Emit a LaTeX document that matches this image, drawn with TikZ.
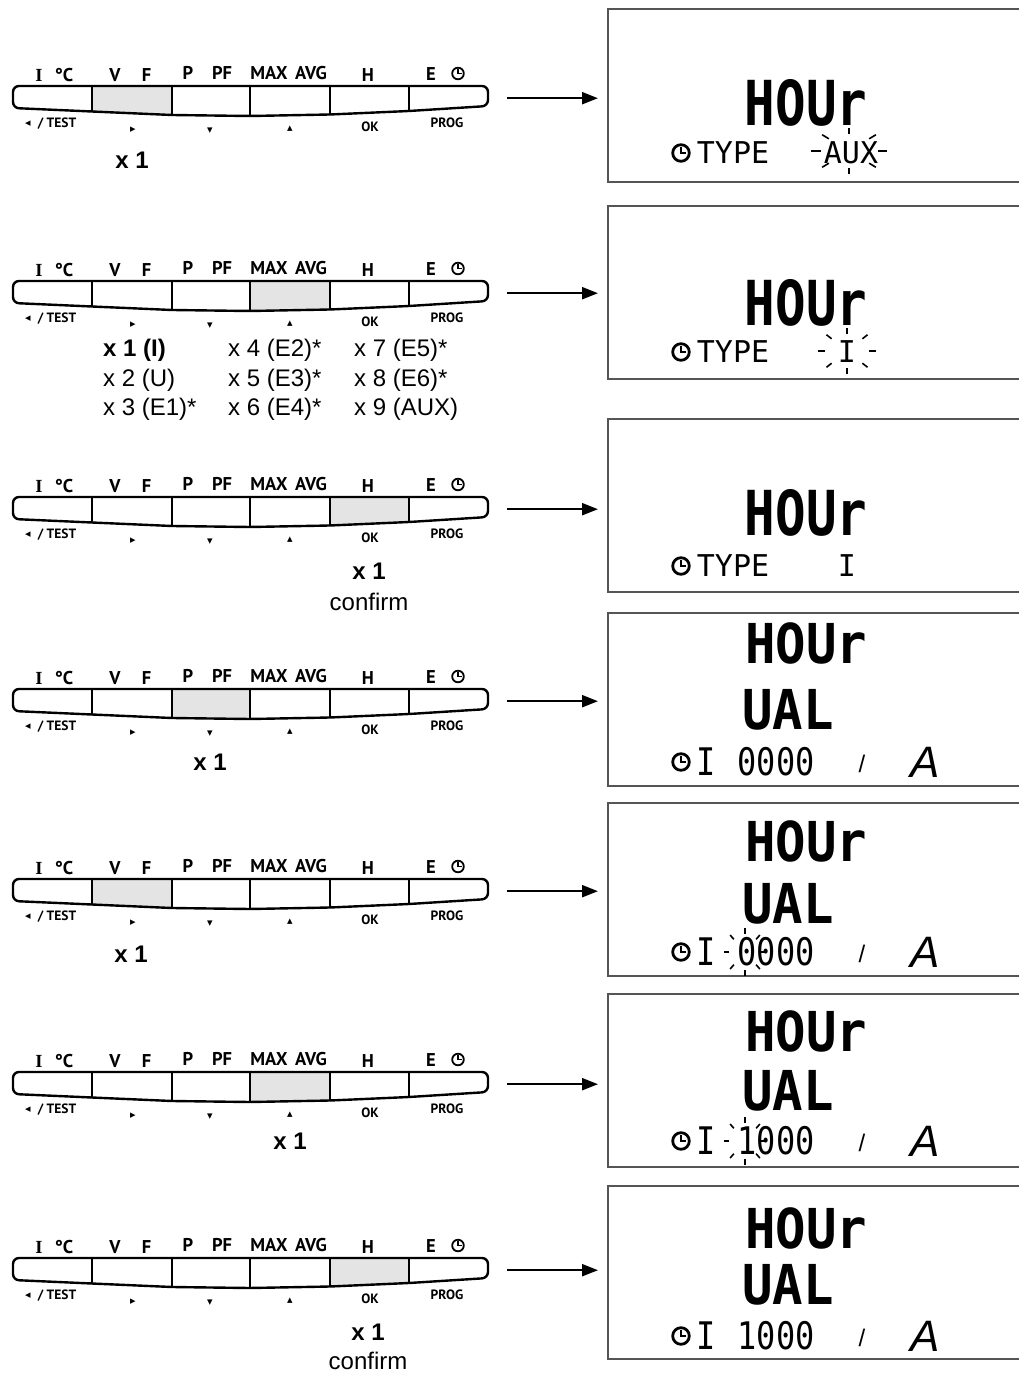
\documentclass[tikz,border=0pt]{standalone}
\usepackage{graphicx}
\usepackage{fontspec}
\setmainfont{Liberation Sans}
\newfontfamily\keyfont{PT Sans}
\newfontfamily\keyserif{Liberation Serif}
\newfontfamily\lcdfont{DejaVu Sans Mono}
\newfontfamily\symfont{DejaVu Sans}
\newfontfamily\unitfont{Liberation Sans}
\usetikzlibrary{arrows.meta}
\definecolor{hlgray}{HTML}{E3E4E3}
\definecolor{lcdgray}{HTML}{555555}

\tikzset{
  kpline/.style={line width=2.4pt, line join=round},
  toplbl/.style={font=\keyfont\bfseries\fontsize{18.5}{18.5}\selectfont, anchor=base, inner sep=0},
  botlbl/.style={font=\keyfont\bfseries\fontsize{13.5}{13.5}\selectfont, inner sep=0},
  tri/.style={font=\symfont\fontsize{11}{11}\selectfont, inner sep=0},
  cnt/.style={font=\bfseries\fontsize{24}{24}\selectfont, inner sep=0},
  cntr/.style={font=\fontsize{24}{24}\selectfont, inner sep=0, anchor=west},
  lcdbox/.style={draw=lcdgray, line width=1.6pt, inner sep=0, anchor=north west, minimum width=440pt, minimum height=173pt},
  arr/.style={line width=2.2pt, -{Triangle[length=16pt,width=12pt]}, shorten <=19pt, shorten >=9pt},
  bigA/.style={font=\lcdfont\bfseries\fontsize{62}{62}\selectfont, inner sep=0},
  bigB/.style={font=\lcdfont\bfseries\fontsize{55}{55}\selectfont, inner sep=0},
  smalltxt/.style={font=\lcdfont\fontsize{30}{30}\selectfont, inner sep=0},
  digits/.style={font=\lcdfont\fontsize{38}{38}\selectfont, inner sep=0},
  unitslash/.style={font=\unitfont\fontsize{24}{24}\selectfont, inner sep=0},
  unitA/.style={font=\unitfont\itshape\fontsize{44}{44}\selectfont, inner sep=0},
  ray/.style={line width=1.6pt},
  clk/.pic={\draw[line width=2.8pt] (0,0) circle[radius=8.3]; \draw[line width=2.3pt] (0,-6)--(0,0)--(5,0);},
  clks/.pic={\draw[line width=1.8pt] (0,0) circle[radius=5.8]; \draw[line width=1.5pt] (0,-4.2)--(0,0)--(3.5,0);},
}

% #1 name, #2 y0, #3 xa, #4 xb, #5 ba, #6 bb
\newcommand\keypad[6]{%
  \fill[hlgray] (#3,#2) -- (#4,#2) -- (#4,#2+#6) -- (#3,#2+#5) -- cycle;
  \draw[kpline, rounded corners=6pt] (13,#2) -- (488,#2) -- (488,#2+20) -- (409,#2+25) -- (330,#2+28.5) -- (250,#2+30) -- (172,#2+29) -- (92,#2+25.5) -- (13,#2+22) -- cycle;
  \foreach \xx/\bb in {92/25.5,172/29,250/30,330/28.5,409/25} {\draw[kpline] (\xx,#2) -- (\xx,#2+\bb);}
  \node[toplbl] at (39,#2-5) {\keyserif I};
  \node[toplbl] at (64,#2-5) {°C};
  \node[toplbl] at (115,#2-5) {V};
  \node[toplbl] at (146.5,#2-5) {F};
  \node[toplbl] at (188,#2-7) {P};
  \node[toplbl] at (222,#2-7) {PF};
  \node[toplbl] at (269,#2-7) {MAX};
  \node[toplbl] at (311,#2-7) {AVG};
  \node[toplbl] at (368,#2-5) {H};
  \node[toplbl] at (431,#2-6) {E};
  \pic at (458,#2-12.5) {clks};
  \node[tri] at (28,#2+38) {◂};
  \node[botlbl] at (57,#2+38) {/ TEST};
  \node[tri] at (133,#2+44) {▸};
  \node[tri] at (210,#2+45) {▾};
  \node[tri] at (290,#2+43) {▴};
  \node[botlbl] at (370,#2+41) {OK};
  \node[botlbl] at (447,#2+37) {PROG};
  \node[inner sep=0, minimum width=475pt, minimum height=24pt, anchor=north west] (#1) at (13,#2) {};
}

% #1 cx, #2 cy, #3 rx, #4 ry
\newcommand\blink[4]{%
  \foreach \a in {0,45,...,315} {
    \pgfmathsetmacro\xa{#1+0.75*#3*cos(\a)}
    \pgfmathsetmacro\ya{#2+0.75*#4*sin(\a)}
    \pgfmathsetmacro\xb{#1+#3*cos(\a)}
    \pgfmathsetmacro\yb{#2+#4*sin(\a)}
    \draw[ray] (\xa,\ya) -- (\xb,\yb);
  }
}

\begin{document}
\begin{tikzpicture}[x=1pt,y=-1pt]
\useasboundingbox (0,0) rectangle (1019,1373);

% ---------------- keypads ----------------
\keypad{K1}{86}{92}{172}{25.5}{29}
\keypad{K2}{281}{250}{330}{30}{28.5}
\keypad{K3}{497}{330}{409}{28.5}{25}
\keypad{K4}{689}{172}{250}{29}{30}
\keypad{K5}{879}{92}{172}{25.5}{29}
\keypad{K6}{1072}{250}{330}{30}{28.5}
\keypad{K7}{1258}{330}{409}{28.5}{25}

% ---------------- counts ----------------
\node[cnt] (c1) at (132,160) {x 1};
\node[cntr, font=\bfseries\fontsize{24}{24}\selectfont] (c2a) at (103,350) {x 1 (I)};
\node[cntr] (c2b) at (103,380) {x 2 (U)};
\node[cntr] (c2c) at (103,409) {x 3 (E1)*};
\node[cntr] (c2d) at (228,350) {x 4 (E2)*};
\node[cntr] (c2e) at (228,380) {x 5 (E3)*};
\node[cntr] (c2f) at (228,409) {x 6 (E4)*};
\node[cntr] (c2g) at (354,350) {x 7 (E5)*};
\node[cntr] (c2h) at (354,380) {x 8 (E6)*};
\node[cntr] (c2i) at (354,409) {x 9 (AUX)};
\node[cnt] (c3) at (369,571) {x 1};
\node[cntr, anchor=center] (c3b) at (369,602) {confirm};
\node[cnt] (c4) at (210,762) {x 1};
\node[cnt] (c5) at (131,954) {x 1};
\node[cnt] (c6) at (290,1141) {x 1};
\node[cnt] (c7) at (368,1332) {x 1};
\node[cntr, anchor=center] (c7b) at (368,1361) {confirm};

% ---------------- LCD boxes ----------------
\node[lcdbox] (L1) at (607,8) {};
\node[lcdbox] (L2) at (607,205) {};
\node[lcdbox] (L3) at (607,418) {};
\node[lcdbox] (L4) at (607,612) {};
\node[lcdbox] (L5) at (607,802) {};
\node[lcdbox] (L6) at (607,993) {};
\node[lcdbox] (L7) at (607,1185) {};

% ---------------- arrows ----------------
\foreach \i in {1,...,7} {\draw[arr] (K\i.east) -- (K\i.east -| L\i.west);}

% ---------------- LCD 1 ----------------
\node[bigA] (h1) at (806,103) {\scalebox{0.82}[1]{HOUr}};
\pic at (681,153) {clk};
\node[smalltxt] (t1) at (733,153) {TYPE};
\node[smalltxt] (a1) at (851,153) {AUX};
\blink{849}{151}{38}{23}

% ---------------- LCD 2 ----------------
\node[bigA] (h2) at (806,303) {\scalebox{0.82}[1]{HOUr}};
\pic at (681,352) {clk};
\node[smalltxt] (t2) at (733,352) {TYPE};
\node[smalltxt] (i2) at (847,352) {I};
\blink{847}{351}{29}{23}

% ---------------- LCD 3 ----------------
\node[bigA] (h3) at (806,513) {\scalebox{0.82}[1]{HOUr}};
\pic at (681,566) {clk};
\node[smalltxt] (t3) at (733,566) {TYPE};
\node[smalltxt] (i3) at (847,566) {I};

% ---------------- LCD 4 ----------------
\node[bigB] (h4) at (806,643) {\scalebox{0.92}[1]{HOUr}};
\node[bigB] (u4) at (788,710) {\scalebox{0.92}[1]{UAL}};
\pic at (681,762) {clk};
\node[digits] (i4) at (706,762) {\scalebox{0.84}[1]{I}};
\node[digits] (d4) at (776,762) {\scalebox{0.84}[1]{0000}};
\node[unitslash] (s4) at (862,764) {/};
\node[unitA] (A4) at (925,762) {A};

% ---------------- LCD 5 ----------------
\node[bigB] (h5) at (806,841) {\scalebox{0.92}[1]{HOUr}};
\node[bigB] (u5) at (788,904) {\scalebox{0.92}[1]{UAL}};
\pic at (681,952) {clk};
\node[digits] (i5) at (706,952) {\scalebox{0.84}[1]{I}};
\node[digits] (d5) at (776,952) {\scalebox{0.84}[1]{0000}};
\blink{745}{952}{21}{24}
\node[unitslash] (s5) at (862,954) {/};
\node[unitA] (A5) at (925,952) {A};

% ---------------- LCD 6 ----------------
\node[bigB] (h6) at (806,1031) {\scalebox{0.92}[1]{HOUr}};
\node[bigB] (u6) at (788,1091) {\scalebox{0.92}[1]{UAL}};
\pic at (681,1141) {clk};
\node[digits] (i6) at (706,1141) {\scalebox{0.84}[1]{I}};
\node[digits] (d6) at (776,1141) {\scalebox{0.84}[1]{1000}};
\blink{745}{1141}{21}{24}
\node[unitslash] (s6) at (862,1143) {/};
\node[unitA] (A6) at (925,1141) {A};

% ---------------- LCD 7 ----------------
\node[bigB] (h7) at (806,1228) {\scalebox{0.92}[1]{HOUr}};
\node[bigB] (u7) at (788,1285) {\scalebox{0.92}[1]{UAL}};
\pic at (681,1336) {clk};
\node[digits] (i7) at (706,1336) {\scalebox{0.84}[1]{I}};
\node[digits] (d7) at (776,1336) {\scalebox{0.84}[1]{1000}};
\node[unitslash] (s7) at (862,1338) {/};
\node[unitA] (A7) at (925,1336) {A};
\end{tikzpicture}
\end{document}
